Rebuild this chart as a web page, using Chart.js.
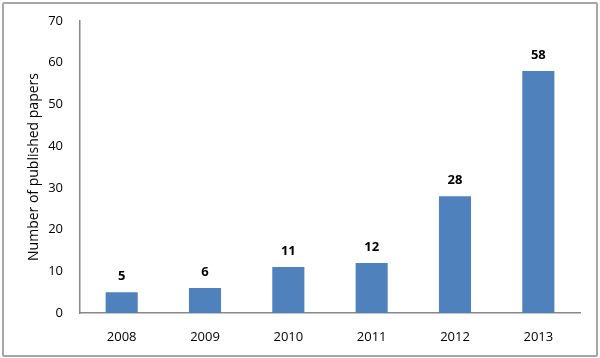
<!DOCTYPE html>
<html><head><meta charset="utf-8">
<script src="https://cdn.jsdelivr.net/npm/chart.js@4.4.0/dist/chart.umd.min.js"></script>
<style>
html,body{margin:0;padding:0;background:#fff;}
#wrap{position:relative;width:600px;height:358px;}
#frame{position:absolute;left:2px;top:2px;width:592px;height:351px;border:2px solid #a6a6a6;border-radius:2px;pointer-events:none;}
canvas{position:absolute;left:0;top:0;}
</style></head>
<body>
<div id="wrap"><canvas id="c" width="600" height="358"></canvas><div id="frame"></div></div>
<script>
const categories = ['2008','2009','2010','2011','2012','2013'];
const papers = [5, 6, 11, 12, 28, 58];
const yTicks = [0,10,20,30,40,50,60,70];
const yTitle = 'Number of published papers';
const FONT = '"Open Sans", "DejaVu Sans", sans-serif';

const labelPlugin = {
  id: 'barLabels',
  afterDatasetsDraw(chart) {
    const ctx = chart.ctx;
    const meta = chart.getDatasetMeta(0);
    ctx.save();
    ctx.font = 'bold 13px ' + FONT;
    ctx.fillStyle = '#000';
    ctx.textAlign = 'center';
    ctx.textBaseline = 'bottom';
    meta.data.forEach((bar, i) => {
      ctx.fillText(String(papers[i]), bar.x, bar.y - 9);
    });
    // y axis title
    const a = chart.chartArea;
    ctx.translate(34, (a.top + a.bottom) / 2);
    ctx.rotate(-Math.PI / 2);
    ctx.font = '14px ' + FONT;
    ctx.textBaseline = 'middle';
    ctx.fillText(yTitle, 0, 0);
    ctx.restore();
  }
};

new Chart(document.getElementById('c'), {
  type: 'bar',
  data: {
    labels: categories,
    datasets: [{
      data: papers,
      backgroundColor: '#4f81bd',
      borderWidth: 0,
      barPercentage: 0.77,
      categoryPercentage: 0.5
    }]
  },
  options: {
    responsive: false,
    animation: false,
    events: [],
    layout: { padding: { top: 21, right: 20, left: 0, bottom: 0 } },
    plugins: { legend: { display: false }, tooltip: { enabled: false } },
    scales: {
      x: {
        grid: { display: false, drawTicks: false },
        border: { color: '#888', width: 1.5 },
        ticks: { color: '#000', font: { size: 13, family: FONT }, padding: 16 },
        afterFit(s) { s.height = 45; }
      },
      y: {
        min: 0, max: 70,
        afterBuildTicks(s) { s.ticks = yTicks.map(v => ({ value: v })); },
        grid: { display: false, drawOnChartArea: false, drawTicks: true, tickLength: 5, tickColor: '#888' },
        border: { color: '#888', width: 1.5 },
        ticks: { color: '#000', font: { size: 13, family: FONT }, padding: 12 },
        afterFit(s) { s.width = 80; }
      }
    }
  },
  plugins: [labelPlugin]
});
</script>
</body></html>
